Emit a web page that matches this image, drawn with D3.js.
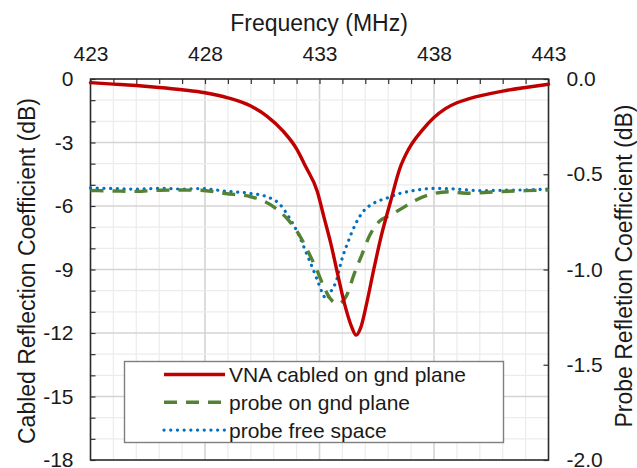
<!DOCTYPE html>
<meta charset="utf-8">
<style>
body { margin: 0; background: #fff; }
text { font-family: "Liberation Sans", Arial, sans-serif; fill: #1a1a1a; }
.tick line { stroke: #333; stroke-width: 1.2px; }
</style>
<svg width="637" height="468"></svg>
<script src="https://d3js.org/d3.v7.min.js"></script>
<script>

// VNA cabled on gnd plane (left axis, dB)
var vnaFreq = [423, 424, 425, 426, 427, 428, 429, 430, 430.7, 431.4, 432, 432.4, 432.9, 433.2, 433.5,
               433.8, 434.1, 434.4, 434.6, 434.8, 435.05, 435.35, 435.7, 436.1, 436.5, 436.9, 437.5,
               438, 438.5, 439, 439.5, 440, 441, 442, 443];
var vnaDb = [-0.17, -0.24, -0.31, -0.4, -0.51, -0.65, -0.89, -1.28, -1.75, -2.45, -3.3, -4.15, -5.3, -6.55, -7.8,
             -9.25, -10.65, -11.7, -12.1, -11.75, -10.65, -9.1, -7.4, -5.8, -4.25, -3.3, -2.4,
             -1.82, -1.4, -1.12, -0.94, -0.8, -0.57, -0.4, -0.25];

// probe on gnd plane (right axis, dB)
var gndFreq = [423, 424, 425, 426, 427, 427.8, 428.9, 430, 431, 431.7, 432.2, 432.5, 432.85, 433.15, 433.45,
               433.8, 434.2, 434.5, 434.85, 435.2, 435.6, 436.1, 436.6, 437.2, 438, 438.7, 439.4, 440.7, 442, 443];
var gndDb = [-0.585, -0.588, -0.59, -0.584, -0.583, -0.584, -0.601, -0.618, -0.671, -0.749, -0.836, -0.906, -0.993, -1.08, -1.15,
             -1.18, -1.132, -1.028, -0.923, -0.819, -0.749, -0.714, -0.679, -0.636, -0.601, -0.592, -0.6, -0.592, -0.586, -0.583];

// probe free space (right axis, dB)
var freeFreq = [423, 424, 425, 426.2, 427, 427.8, 428.9, 430, 430.7, 431.3, 431.7, 432.1, 432.4, 432.7, 432.95,
                433.15, 433.3, 433.5, 433.75, 433.95, 434.25, 434.55, 434.9, 435.35, 435.9, 436.5, 437.2,
                438, 439, 440, 441, 442, 443];
var freeDb = [-0.572, -0.575, -0.578, -0.574, -0.578, -0.575, -0.589, -0.601, -0.618, -0.662, -0.732, -0.819, -0.906, -0.993, -1.07,
              -1.13, -1.155, -1.115, -1.054, -0.958, -0.854, -0.767, -0.697, -0.653, -0.627, -0.601, -0.584,
              -0.574, -0.578, -0.586, -0.584, -0.582, -0.578];

var legendLabels = ["VNA cabled on gnd plane", "probe on gnd plane", "probe free space"];

var svg = d3.select("svg");
var L = 90.5, R = 548.5, T = 79, B = 460;

var x = d3.scaleLinear().domain([423, 443]).range([L, R]);
var yL = d3.scaleLinear().domain([-18, 0]).range([B, T]);
var yR = d3.scaleLinear().domain([-2, 0]).range([B, T]);

/************* GRID ***************/
var grid = svg.append("g");
grid.selectAll(".gx").data(d3.range(424, 443)).enter().append("line")
    .attr("x1", function(d) { return x(d); }).attr("x2", function(d) { return x(d); })
    .attr("y1", T).attr("y2", B)
    .attr("stroke", function(d) { return (d - 423) % 5 === 0 ? "#d4d4d4" : "#ececec"; })
    .attr("stroke-width", function(d) { return (d - 423) % 5 === 0 ? 1.6 : 1.2; });
grid.selectAll(".gy").data(d3.range(-17, 0)).enter().append("line")
    .attr("y1", function(d) { return yL(d); }).attr("y2", function(d) { return yL(d); })
    .attr("x1", L).attr("x2", R)
    .attr("stroke", function(d) { return d % 3 === 0 ? "#d4d4d4" : "#ececec"; })
    .attr("stroke-width", function(d) { return d % 3 === 0 ? 1.6 : 1.2; });

/************* AXES ***************/
var topAxis = d3.axisTop(x).tickValues(d3.range(423, 444))
    .tickSizeInner(-5).tickSizeOuter(0).tickPadding(18)
    .tickFormat(function(d) { return (d - 423) % 5 === 0 ? d : ""; });
var leftAxis = d3.axisLeft(yL).tickValues(d3.range(-18, 1))
    .tickSizeInner(-5).tickSizeOuter(0).tickPadding(17)
    .tickFormat(function(d) { return d % 3 === 0 ? d : ""; });
var rightAxis = d3.axisRight(yR).tickValues([-2, -1.5, -1, -0.5, 0])
    .tickSizeInner(-5).tickSizeOuter(0).tickPadding(18)
    .tickFormat(function(d) { return d.toFixed(1); });

[[topAxis, "translate(0," + T + ")"], [leftAxis, "translate(" + L + ",0)"], [rightAxis, "translate(" + R + ",0)"]]
  .forEach(function(a) {
    var g = svg.append("g").attr("transform", a[1]).call(a[0]);
    g.select(".domain").remove();
    g.selectAll("text").style("font-size", "21px").style("font-family", '"Liberation Sans", Arial, sans-serif').attr("fill", "#1a1a1a");
  });

svg.append("rect")
    .attr("x", L).attr("y", T).attr("width", R - L).attr("height", B - T)
    .attr("fill", "none").attr("stroke", "#2a2a2a").attr("stroke-width", 1.6);

/************* TITLES ***************/
svg.append("text").attr("x", 319).attr("y", 31).attr("text-anchor", "middle")
    .style("font-size", "23px").text("Frequency (MHz)");
svg.append("text").attr("transform", "translate(27,271) rotate(-90)")
    .attr("text-anchor", "middle").attr("dominant-baseline", "central")
    .style("font-size", "23px").text("Cabled Reflection Coefficient (dB)");
svg.append("text").attr("transform", "translate(624,266) rotate(-90)")
    .attr("text-anchor", "middle").attr("dominant-baseline", "central")
    .style("font-size", "23px").text("Probe Refletion Coefficient (dB)");

/************* LINES ***************/
function pts(fs, vs) { return fs.map(function(f, i) { return [f, vs[i]]; }); }

var lineL = d3.line().curve(d3.curveMonotoneX)
    .x(function(d) { return x(d[0]); }).y(function(d) { return yL(d[1]); });
var lineR = d3.line().curve(d3.curveMonotoneX)
    .x(function(d) { return x(d[0]); }).y(function(d) { return yR(d[1]); });

var styles = [
  { color: "#0070c0", width: 3.2, dash: "0.1,6.6", cap: "round" },
  { color: "#548235", width: 3.4, dash: "13,9", cap: "butt" },
  { color: "#c00000", width: 3.4, dash: null, cap: "round" }
];

svg.append("path").datum(pts(freeFreq, freeDb)).attr("d", lineR)
    .attr("fill", "none").attr("stroke", styles[0].color).attr("stroke-width", styles[0].width)
    .attr("stroke-dasharray", styles[0].dash).attr("stroke-linecap", styles[0].cap);
svg.append("path").datum(pts(gndFreq, gndDb)).attr("d", lineR)
    .attr("fill", "none").attr("stroke", styles[1].color).attr("stroke-width", styles[1].width)
    .attr("stroke-dasharray", styles[1].dash).attr("stroke-linecap", styles[1].cap);
svg.append("path").datum(pts(vnaFreq, vnaDb)).attr("d", lineL)
    .attr("fill", "none").attr("stroke", styles[2].color).attr("stroke-width", styles[2].width)
    .attr("stroke-linejoin", "round").attr("stroke-linecap", "round");

/************* LEGEND ***************/
var legend = svg.append("g");
legend.append("rect").attr("x", 124.5).attr("y", 361.5).attr("width", 379).attr("height", 81)
    .attr("fill", "#fff").attr("stroke", "#7f7f7f").attr("stroke-width", 1.4);

var legendStyles = [styles[2], styles[1], styles[0]];
var rows = legend.selectAll(".row").data(legendLabels).enter().append("g")
    .attr("transform", function(d, i) { return "translate(0," + (374.5 + i * 27.8) + ")"; });
rows.append("line").attr("x1", 164).attr("x2", 225).attr("y1", 0).attr("y2", 0)
    .attr("stroke", function(d, i) { return legendStyles[i].color; })
    .attr("stroke-width", function(d, i) { return legendStyles[i].width; })
    .attr("stroke-dasharray", function(d, i) { return legendStyles[i].dash; })
    .attr("stroke-linecap", function(d, i) { return i === 2 ? "round" : "butt"; });
rows.append("text").attr("x", 229).attr("y", 0).attr("dominant-baseline", "central")
    .style("font-size", "21px").text(function(d) { return d; });

</script>
